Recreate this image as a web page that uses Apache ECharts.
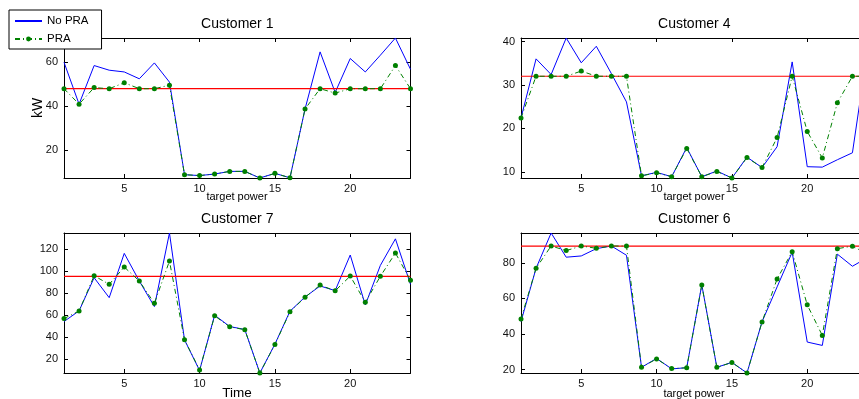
<!DOCTYPE html>
<html>
<head>
<meta charset="utf-8">
<script src="https://cdn.jsdelivr.net/npm/echarts@6/dist/echarts.min.js"></script>
<style>
  html, body { margin: 0; padding: 0; background: #fff; overflow: hidden; }
  /* drawing surface is a little wider than the window; the right-hand panels run past its edge */
  #chart { width: 872px; height: 399px; }
</style>
</head>
<body>
<div id="chart"></div>
<script>
// Hourly load per customer, without and with peak reduction (kW)
const hours = [1, 2, 3, 4, 5, 6, 7, 8, 9, 10, 11, 12, 13, 14, 15, 16, 17, 18, 19, 20, 21, 22, 23, 24];
const xTicks = [5, 10, 15, 20];

const c1NoPra = [60, 41, 58.5, 56.4, 55.6, 52.5, 59.7, 51, 9, 8.6, 9.3, 10.5, 10.5, 7.5, 9.6, 7.6, 38.8, 64.7, 46.3, 61.7, 55.6, 63.2, 71, 56.8];
const c1Pra   = [48, 41, 48.5, 48, 50.7, 48, 48, 49.6, 9, 8.6, 9.3, 10.5, 10.5, 7.5, 9.6, 7.6, 38.8, 48, 46, 48, 48, 48, 58.5, 48];
const c1Target = 48;
const c1YTicks = [20, 40, 60];

const c4NoPra = [22.4, 36, 32.4, 40.8, 35.1, 38.9, 32.6, 26.1, 9.1, 9.9, 8.9, 15.6, 8.9, 10.2, 8.6, 13.4, 11, 15.8, 35.3, 11.2, 11.1, 12.8, 14.4, 38];
const c4Pra   = [22.4, 32, 32, 32, 33.2, 32, 32, 32, 9.1, 9.8, 8.9, 15.4, 8.9, 10.1, 8.6, 13.3, 11, 17.9, 32, 19.3, 13.2, 25.9, 32, 32];
const c4Target = 32;
const c4YTicks = [10, 20, 30, 40];

const c7NoPra = [54.4, 64.1, 94.2, 76.1, 116.3, 91.2, 68, 134.8, 37.8, 10, 60.2, 49.9, 47.2, 7.7, 33.9, 63.8, 76.7, 86.7, 82.5, 114.8, 69.5, 105.4, 129.5, 88.2];
const c7Pra   = [57.1, 64, 96, 88.2, 103.9, 91.2, 71, 109.3, 37.8, 10.5, 59.6, 49.6, 47, 7.7, 33.5, 63.3, 76.4, 87.5, 82.3, 95.7, 71.9, 95.5, 116.6, 91.8];
const c7Target = 95.5;
const c7YTicks = [20, 40, 60, 80, 100, 120];

const c6NoPra = [47, 77, 96.8, 83.2, 83.9, 88, 89.5, 84.3, 21.3, 26.3, 20.4, 21.1, 67.7, 21.3, 24.1, 18.1, 46.9, 66.5, 86, 35.5, 33.6, 84.9, 78.1, 83];
const c6Pra   = [48.5, 77, 89.5, 86.9, 89.5, 88.2, 89.5, 89.5, 21.3, 26, 20.6, 21, 67.5, 21.3, 24, 18.1, 46.8, 71, 86.3, 56.4, 39.2, 88, 89.4, 85];
const c6Target = 89.4;
const c6YTicks = [20, 40, 60, 80];

const panels = [
  { title: 'Customer 1', noPra: c1NoPra, pra: c1Pra, target: c1Target, yTicks: c1YTicks },
  { title: 'Customer 4', noPra: c4NoPra, pra: c4Pra, target: c4Target, yTicks: c4YTicks },
  { title: 'Customer 7', noPra: c7NoPra, pra: c7Pra, target: c7Target, yTicks: c7YTicks },
  { title: 'Customer 6', noPra: c6NoPra, pra: c6Pra, target: c6Target, yTicks: c6YTicks }
];

// plot boxes (pixels)
const boxes = [
  { left: 64, top: 38, width: 346.5, height: 140 },
  { left: 521, top: 38, width: 346.5, height: 140 },
  { left: 64, top: 233, width: 346.5, height: 140 },
  { left: 521, top: 233, width: 346.5, height: 140 }
];

const FONT = '"Liberation Sans", Arial, Helvetica, sans-serif';
const INK = '#111';

const grid = [], xAxis = [], yAxis = [], series = [], graphic = [];

panels.forEach((p, i) => {
  const b = boxes[i];
  grid.push({ left: b.left, top: b.top, width: b.width, height: b.height, containLabel: false });
  const all = p.noPra.concat(p.pra);
  const yMin = Math.min.apply(null, all);
  const yMax = Math.max.apply(null, all);
  const xMin = hours[0], xMax = hours[hours.length - 1];

  const lineStyle = { color: '#000', width: 1 };
  const tick = (vals) => ({ show: true, inside: true, length: 4, customValues: vals, lineStyle: { color: '#000', width: 1 } });

  xAxis.push({
    type: 'value', gridIndex: i, position: 'bottom', min: xMin, max: xMax,
    axisLine: { show: true, onZero: false, lineStyle },
    axisTick: tick(xTicks),
    axisLabel: { show: true, customValues: xTicks, margin: 5, color: INK, fontSize: 11, fontFamily: FONT },
    splitLine: { show: false }
  });
  xAxis.push({
    type: 'value', gridIndex: i, position: 'top', min: xMin, max: xMax,
    axisLine: { show: true, onZero: false, lineStyle },
    axisTick: tick(xTicks),
    axisLabel: { show: false },
    splitLine: { show: false }
  });
  yAxis.push({
    type: 'value', gridIndex: i, position: 'left', min: yMin, max: yMax,
    axisLine: { show: true, onZero: false, lineStyle },
    axisTick: tick(p.yTicks),
    axisLabel: { show: true, customValues: p.yTicks, margin: 6, color: INK, fontSize: 11, fontFamily: FONT },
    splitLine: { show: false }
  });
  yAxis.push({
    type: 'value', gridIndex: i, position: 'right', min: yMin, max: yMax,
    axisLine: { show: true, onZero: false, lineStyle },
    axisTick: tick(p.yTicks),
    axisLabel: { show: false },
    splitLine: { show: false }
  });

  series.push({
    name: 'No PRA', type: 'line', xAxisIndex: 2 * i, yAxisIndex: 2 * i,
    data: hours.map((h, k) => [h, p.noPra[k]]),
    symbol: 'none', lineStyle: { color: '#0000ff', width: 1 }, itemStyle: { color: '#0000ff' },
    z: 2, animation: false
  });
  series.push({
    name: 'Target', type: 'line', xAxisIndex: 2 * i, yAxisIndex: 2 * i,
    data: [[xMin, p.target], [xMax, p.target]],
    symbol: 'none', lineStyle: { color: '#ff0000', width: 1.2 }, z: 3, animation: false, silent: true
  });
  series.push({
    name: 'PRA', type: 'line', xAxisIndex: 2 * i, yAxisIndex: 2 * i,
    data: hours.map((h, k) => [h, p.pra[k]]),
    symbol: 'circle', symbolSize: 5,
    lineStyle: { color: '#008000', width: 1, type: [5, 3, 1, 3] },
    itemStyle: { color: '#008000' },
    z: 4, animation: false
  });

  const cx = b.left + b.width / 2;
  graphic.push({
    type: 'text', x: cx, y: b.top - 14, z: 5,
    style: { text: p.title, font: '14px ' + FONT, fill: '#000', textAlign: 'center', textVerticalAlign: 'middle' }
  });
});

// axis names
graphic.push({ type: 'text', x: 237, y: 197, z: 5,
  style: { text: 'target power', font: '11px ' + FONT, fill: '#000', textAlign: 'center', textVerticalAlign: 'middle' } });
graphic.push({ type: 'text', x: 694, y: 197, z: 5,
  style: { text: 'target power', font: '11px ' + FONT, fill: '#000', textAlign: 'center', textVerticalAlign: 'middle' } });
graphic.push({ type: 'text', x: 237, y: 393, z: 5,
  style: { text: 'Time', font: '13.5px ' + FONT, fill: '#000', textAlign: 'center', textVerticalAlign: 'middle' } });
graphic.push({ type: 'text', x: 694, y: 394, z: 5,
  style: { text: 'target power', font: '11px ' + FONT, fill: '#000', textAlign: 'center', textVerticalAlign: 'middle' } });
graphic.push({ type: 'text', x: 38, y: 108, rotation: Math.PI / 2, z: 5,
  style: { text: 'kW', font: '14px ' + FONT, fill: '#000', textAlign: 'center', textVerticalAlign: 'middle' } });

const chart = echarts.init(document.getElementById('chart'), null, { renderer: 'canvas' });
chart.setOption({
  animation: false,
  backgroundColor: '#fff',
  grid, xAxis, yAxis, series, graphic,
  legend: {
    data: [
      { name: 'No PRA', itemStyle: { opacity: 0 } },
      { name: 'PRA' }
    ],
    orient: 'vertical', left: 9, top: 10,
    padding: [5, 13, 4, 5], itemGap: 6, itemWidth: 27, itemHeight: 6,
    backgroundColor: '#fff', borderColor: '#000', borderWidth: 1, borderRadius: 0,
    textStyle: { fontSize: 11.5, color: '#000', fontFamily: FONT },
    z: 10
  }
});
</script>
</body>
</html>
